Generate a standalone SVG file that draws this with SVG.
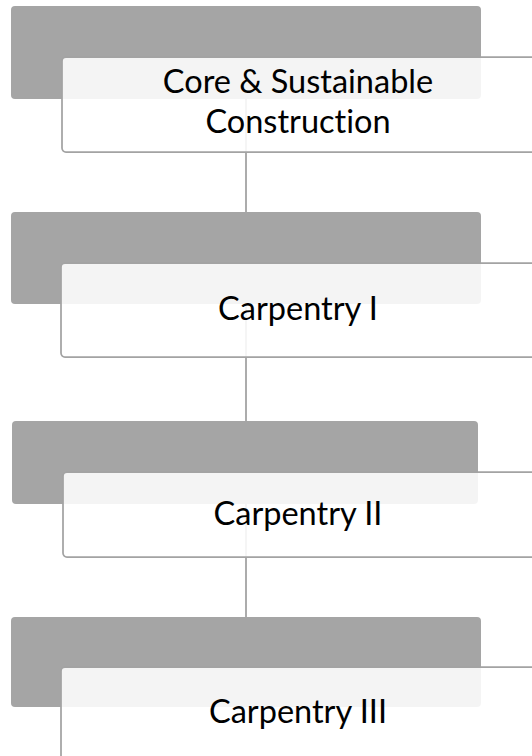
<svg xmlns="http://www.w3.org/2000/svg" width="532" height="756" viewBox="0 0 532 756">
<style>
.back{fill:#a5a5a5;}
.front{fill:#ffffff;fill-opacity:0.88;stroke:#a3a3a3;stroke-width:1.75;}
.conn{stroke:#a0a0a0;stroke-width:1.75;fill:none;}
.lbl{font-family:Lato,"Open Sans",sans-serif;font-size:32.5px;fill:#000;text-anchor:middle;font-variant-ligatures:none;font-feature-settings:"liga" 0;}
</style>
<rect width="532" height="756" fill="#ffffff"/>
<g id="connectors">
<line class="conn" x1="246" y1="99" x2="246" y2="212"/>
<line class="conn" x1="246" y1="304" x2="246" y2="421"/>
<line class="conn" x1="246" y1="504" x2="246" y2="617"/>
</g>
<g id="node1">
<rect class="back" x="11" y="6" width="470" height="93" rx="4"/>
<rect class="front" x="62" y="57" width="476" height="95" rx="4"/>
<text class="lbl" x="298" y="93">Core &amp; Sustainable</text>
<text class="lbl" x="298" y="133">Construction</text>
</g>
<g id="node2">
<rect class="back" x="11" y="212" width="470" height="92" rx="4"/>
<rect class="front" x="61" y="263" width="476" height="94" rx="4"/>
<text class="lbl" x="298" y="320">Carpentry I</text>
</g>
<g id="node3">
<rect class="back" x="12" y="421" width="466" height="83" rx="4"/>
<rect class="front" x="63" y="472" width="476" height="85" rx="4"/>
<text class="lbl" x="298" y="525">Carpentry II</text>
</g>
<g id="node4">
<rect class="back" x="11" y="617" width="470" height="90" rx="4"/>
<rect class="front" x="61" y="667" width="476" height="100" rx="4"/>
<text class="lbl" x="298" y="723">Carpentry III</text>
</g>
</svg>
